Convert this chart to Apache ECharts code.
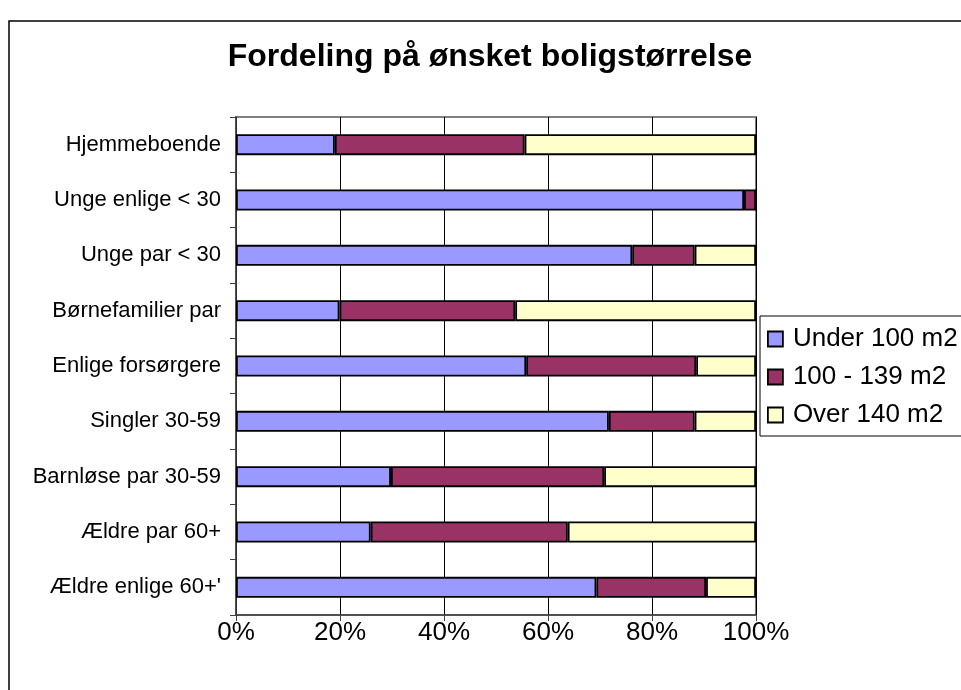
<!DOCTYPE html>
<html>
<head>
<meta charset="utf-8">
<title>Fordeling på ønsket boligstørrelse</title>
<script src="https://cdn.jsdelivr.net/npm/echarts@6/dist/echarts.min.js"></script>
<style>
  html, body { margin: 0; padding: 0; background: #fff; }
  #chart { width: 961px; height: 690px; }
</style>
</head>
<body>
<div id="chart"></div>
<script>
// kategorier, oppefra og ned
var categories = [
  'Hjemmeboende',
  'Unge enlige < 30',
  'Unge par < 30',
  'Børnefamilier par',
  'Enlige forsørgere',
  'Singler 30-59',
  'Barnløse par 30-59',
  'Ældre par 60+',
  "Ældre enlige 60+'"
]
var seriesNames = ['Under 100 m2', '100 - 139 m2', 'Over 140 m2']
// andele i procent
var under100 = [19.0, 97.7, 76.2, 19.9, 55.8, 71.7, 29.8, 25.9, 69.3]
var mid100to139 = [36.5, 2.3, 12.0, 33.8, 32.7, 16.5, 41.0, 37.9, 21.1]
var over140 = [44.5, 0, 11.8, 46.3, 11.5, 11.8, 29.2, 36.2, 9.6]
var xTicks = [0, 20, 40, 60, 80, 100]

var font = 'Liberation Sans, Arial, sans-serif'
var colors = ['#9999FF', '#993366', '#FFFFCC']

var chart = echarts.init(document.getElementById('chart'))

function barSeries(name, data) {
  return {
    name: name,
    type: 'bar',
    stack: 'total',
    barWidth: 21,
    data: data,
    itemStyle: {
      borderColor: '#000',
      borderWidth: 1.8
    }
  }
}

chart.setOption({
  animation: false,
  backgroundColor: '#fff',
  color: colors,
  title: {
    text: 'Fordeling på ønsket boligstørrelse',
    left: 485,
    top: 36,
    textAlign: 'center',
    textStyle: {
      fontFamily: font,
      fontSize: 32,
      fontWeight: 'bold',
      color: '#000'
    }
  },
  graphic: [{
    type: 'rect',
    shape: { x: 9, y: 21, width: 1000, height: 700 },
    style: { fill: null, stroke: '#000', lineWidth: 1.5 },
    z: 0
  }],
  legend: {
    orient: 'vertical',
    left: 760,
    top: 316,
    padding: [10, 20, 8, 7],
    itemWidth: 15,
    itemHeight: 15,
    itemGap: 12,
    backgroundColor: '#fff',
    borderColor: '#000',
    borderWidth: 1,
    icon: 'rect',
    itemStyle: { borderColor: '#000', borderWidth: 1.8 },
    textStyle: {
      fontFamily: font,
      fontSize: 26,
      color: '#000',
      padding: [0, 0, 0, 5]
    },
    data: seriesNames
  },
  grid: {
    left: 236,
    right: 205,
    top: 117,
    height: 498,
    show: true,
    borderColor: '#808080',
    borderWidth: 2,
    containLabel: false
  },
  xAxis: {
    type: 'value',
    min: xTicks[0],
    max: xTicks[xTicks.length - 1],
    interval: 20,
    axisLine: { show: true, lineStyle: { color: '#404040', width: 1.5 } },
    axisTick: { show: true, length: 6, lineStyle: { color: '#404040' } },
    axisLabel: {
      formatter: '{value}%',
      fontFamily: font,
      fontSize: 26,
      color: '#000',
      margin: 5
    },
    splitLine: { show: true, lineStyle: { color: '#000', width: 1 } }
  },
  yAxis: {
    type: 'category',
    inverse: true,
    data: categories,
    axisLine: { show: true, lineStyle: { color: '#404040', width: 1.5 } },
    axisTick: { show: true, length: 6, lineStyle: { color: '#404040' } },
    axisLabel: {
      fontFamily: font,
      fontSize: 22,
      color: '#000',
      margin: 15
    }
  },
  series: [
    barSeries(seriesNames[0], under100),
    barSeries(seriesNames[1], mid100to139),
    barSeries(seriesNames[2], over140)
  ]
})
</script>
</body>
</html>
